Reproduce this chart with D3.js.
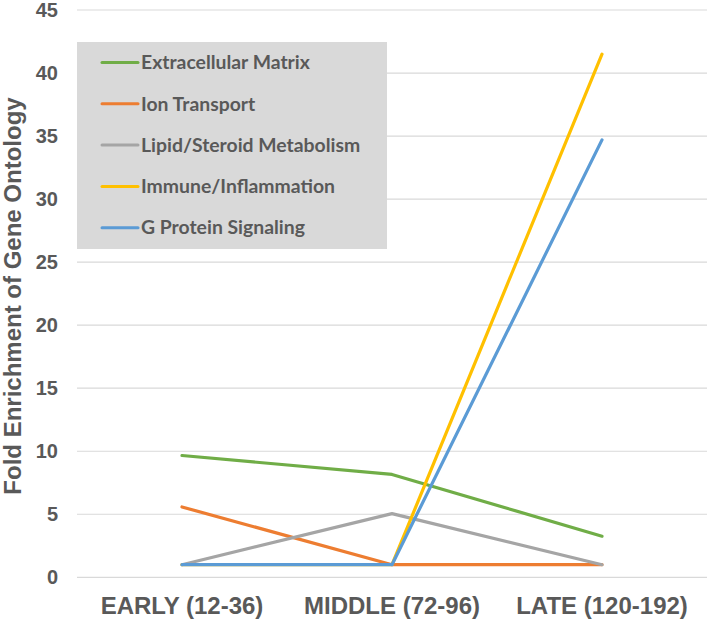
<!DOCTYPE html>
<html>
<head>
<meta charset="utf-8">
<script src="https://cdn.jsdelivr.net/npm/d3@7"></script>
<style>
  html, body { margin: 0; padding: 0; background: #ffffff; }
  svg { display: block; }
</style>
</head>
<body>
<script>
// ---- data ----
const categories = ["EARLY (12-36)", "MIDDLE (72-96)", "LATE (120-192)"];
const seriesNames = ["Extracellular Matrix", "Ion Transport", "Lipid/Steroid Metabolism", "Immune/Inflammation", "G Protein Signaling"];
const extracellularMatrix = [9.66, 8.16, 3.26];
const ionTransport = [5.58, 1, 1];
const lipidSteroid = [1, 5.05, 1];
const immuneInflammation = [1, 1, 41.5];
const gProteinSignaling = [1, 1, 34.7];
const yTicks = [0, 5, 10, 15, 20, 25, 30, 35, 40, 45];
const yTitle = "Fold Enrichment of Gene Ontology";
const colors = ["#70ad47", "#ed7d31", "#a5a5a5", "#ffc000", "#5b9bd5"];

const seriesValues = [extracellularMatrix, ionTransport, lipidSteroid, immuneInflammation, gProteinSignaling];
const series = seriesNames.map((name, i) => ({ name, values: seriesValues[i], color: colors[i] }));

// ---- layout ----
const W = 709, H = 620;
const plot = { left: 77, right: 707, top: 10, bottom: 577.3 };
const svg = d3.select("body").append("svg").attr("width", W).attr("height", H);

const x = d3.scaleBand().domain(categories).range([plot.left, plot.right]).padding(0);
const y = d3.scaleLinear().domain([0, 45]).range([plot.bottom, plot.top]);
const cx = c => x(c) + x.bandwidth() / 2;

// gridlines
svg.append("g").selectAll("line").data(yTicks).join("line")
  .attr("x1", plot.left).attr("x2", plot.right)
  .attr("y1", d => y(d)).attr("y2", d => y(d))
  .attr("stroke", "#d9d9d9").attr("stroke-width", 1.2);

// y axis tick labels
const yAxis = d3.axisLeft(y).tickValues(yTicks).tickSize(0).tickPadding(0);
const yg = svg.append("g").attr("transform", `translate(58,0)`).call(yAxis);
yg.select(".domain").remove();
yg.selectAll("text")
  .attr("x", 0)
  .attr("font-family", "'Liberation Sans', Arial, sans-serif")
  .attr("font-weight", "bold").attr("font-size", 20).attr("fill", "#595959");

// x axis labels
const xAxis = d3.axisBottom(x).tickSize(0).tickPadding(0);
const xg = svg.append("g").attr("transform", `translate(0,${plot.bottom})`).call(xAxis);
xg.select(".domain").remove();
xg.selectAll("text")
  .attr("y", 0).attr("dy", 0)
  .attr("transform", "translate(0,36.5)")
  .attr("font-family", "'Liberation Sans', Arial, sans-serif")
  .attr("font-weight", "bold").attr("font-size", 24).attr("fill", "#595959");

// y title
svg.append("text")
  .attr("transform", `translate(20.5,${(98 + 494) / 2}) rotate(-90)`)
  .attr("text-anchor", "middle")
  .attr("font-family", "'Liberation Sans', Arial, sans-serif")
  .attr("font-weight", "bold").attr("font-size", 24).attr("fill", "#595959")
  .text(yTitle);

// lines
const line = d3.line().x((d, i) => cx(categories[i])).y(d => y(d));
svg.append("g").selectAll("path").data(series).join("path")
  .attr("d", d => line(d.values))
  .attr("fill", "none").attr("stroke", d => d.color)
  .attr("stroke-width", 3.2).attr("stroke-linecap", "round").attr("stroke-linejoin", "round");

// legend
const lg = svg.append("g");
lg.append("rect").attr("x", 77).attr("y", 42).attr("width", 310).attr("height", 207).attr("fill", "#d9d9d9");
const rowY = d3.scalePoint().domain(seriesNames).range([62.5, 227.7]);
const items = lg.selectAll("g.item").data(series).join("g").attr("class", "item")
  .attr("transform", d => `translate(0,${rowY(d.name)})`);
items.append("line").attr("x1", 102).attr("x2", 138).attr("y1", 0).attr("y2", 0)
  .attr("stroke", d => d.color).attr("stroke-width", 3).attr("stroke-linecap", "round");
const lt = items.append("text").attr("x", 141).attr("y", 0).attr("dy", "0.35em")
  .attr("font-family", "Lato, 'Open Sans', sans-serif").attr("font-weight", "bold")
  .attr("font-size", 100).attr("fill", "#595959").text(d => d.name);
// scale legend font so "Extracellular Matrix" spans ~169px
const w100 = lt.filter((d, i) => i === 0).node().getComputedTextLength();
lt.attr("font-size", 100 * 169 / w100);
</script>
</body>
</html>
